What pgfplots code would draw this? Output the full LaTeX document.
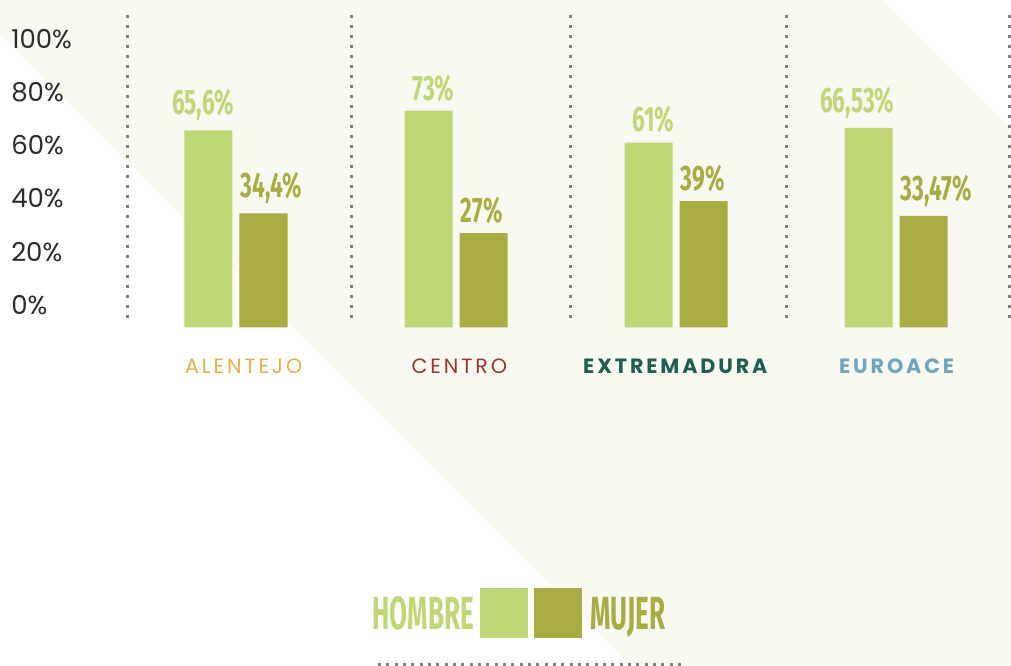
\documentclass[border=0pt]{standalone}
\usepackage{pgfplots}
\pgfplotsset{compat=1.18}
\usepackage{pgfplotstable}
\usepackage{fontspec}
\setmainfont{Poppins}
\newfontfamily\tickfont{Poppins}
\newfontfamily\catfont[LetterSpace=14]{Poppins}
\newfontfamily\valfont[FakeStretch=0.64]{Fira Sans}
\newfontfamily\legfont[FakeStretch=0.56]{Fira Sans}
\definecolor{hombre}{HTML}{BFD777}
\definecolor{mujer}{HTML}{A9AB43}
\definecolor{bgc}{HTML}{F8F9F1}
\definecolor{dotc}{HTML}{808080}
\definecolor{calen}{HTML}{E2B04F}
\definecolor{ccen}{HTML}{9B3530}
\definecolor{cext}{HTML}{1F5F52}
\definecolor{ceur}{HTML}{6FA6BE}
\definecolor{tickc}{HTML}{2B2B2B}

\pgfplotstableread{
g h m
0 65.6 34.4
1 73 27
2 61 39
3 66.53 33.47
}\data

\begin{document}
\begin{tikzpicture}
\begin{scope}[x=0.75pt,y=0.75pt]
\fill[bgc] (0,665) -- (883,665) -- (1011,537) -- (1011,0) -- (630,0) -- (0,630) -- cycle;
\end{scope}
\begin{axis}[at={(0,0)}, anchor=south west, name=ax,
  scale only axis, width=758.25pt, height=498.75pt,
  xmin=-1.0727, xmax=3.5227, ymin=-126.88, ymax=123.12,
  axis line style={draw=none}, major tick length=0pt,
  xtick=\empty,
  ytick={8.5,28.5,48.5,68.5,88.5,108.5},
  yticklabels={0\%,20\%,40\%,60\%,80\%,100\%},
  yticklabel style={anchor=west, inner sep=0pt, xshift=8.25pt, text=tickc,
    font=\tickfont\fontsize{19.5}{19.5}\selectfont},
  clip=false,
  /pgf/number format/assume math mode=true,
]
\addplot[ybar, bar width=36pt, bar shift=-20.625pt, fill=hombre, draw=none,
  nodes near coords={\pgfmathprintnumber[use comma]{\pgfplotspointmeta}\%},
  point meta=explicit,
  every node near coord/.append style={font=\valfont\bfseries\fontsize{26.5}{26.5}\selectfont,
    text=hombre, anchor=south east, inner sep=0pt, xshift=-1.1pt, yshift=6.75pt},
] table[x=g, y expr=\thisrow{h}+8.5, meta=h] {\data};
\addplot[ybar, bar width=36pt, bar shift=20.625pt, fill=mujer, draw=none,
  nodes near coords={\pgfmathprintnumber[use comma]{\pgfplotspointmeta}\%},
  point meta=explicit,
  every node near coord/.append style={font=\valfont\bfseries\fontsize{26.5}{26.5}\selectfont,
    text=mujer, anchor=south west, inner sep=0pt, xshift=3.4pt, yshift=6.75pt},
] table[x=g, y expr=\thisrow{m}+8.5, meta=m] {\data};
\node[anchor=base, inner sep=0pt, text=calen, font=\catfont\fontsize{15.5}{15.5}\selectfont] at (axis cs:0.035,-17.22) {ALENTEJO};
\node[anchor=base, inner sep=0pt, text=ccen, font=\catfont\fontsize{15.5}{15.5}\selectfont] at (axis cs:1.015,-17.22) {CENTRO};
\node[anchor=base, inner sep=0pt, text=cext, font=\catfont\bfseries\fontsize{15.5}{15.5}\selectfont] at (axis cs:1.997,-17.22) {EXTREMADURA};
\node[anchor=base, inner sep=0pt, text=ceur, font=\catfont\bfseries\fontsize{15.5}{15.5}\selectfont] at (axis cs:3.003,-17.22) {EUROACE};
\end{axis}
\begin{scope}[x=0.75pt,y=0.75pt]
\foreach \xx in {127,351,570,786,1009.5}
  \draw[dotc, line width=2.25pt, dash pattern=on 2.25pt off 5.25pt] (\xx,650) -- (\xx,345);
\fill[hombre] (480,27) rectangle (528,77);
\fill[mujer] (534,27) rectangle (582,77);
\node[anchor=base east, inner sep=0pt, text=hombre, font=\legfont\bfseries\fontsize{34.8}{34.8}\selectfont] at (474,36) {HOMBRE};
\node[anchor=base west, inner sep=0pt, text=mujer, font=\legfont\bfseries\fontsize{34.8}{34.8}\selectfont] at (590,36) {MUJER};
\draw[dotc, line width=2.25pt, dash pattern=on 2.25pt off 4pt] (378,1) -- (686,1);
\pgfresetboundingbox
\path[use as bounding box] (0,0) rectangle (1011,665);
\end{scope}
\end{tikzpicture}
\end{document}
